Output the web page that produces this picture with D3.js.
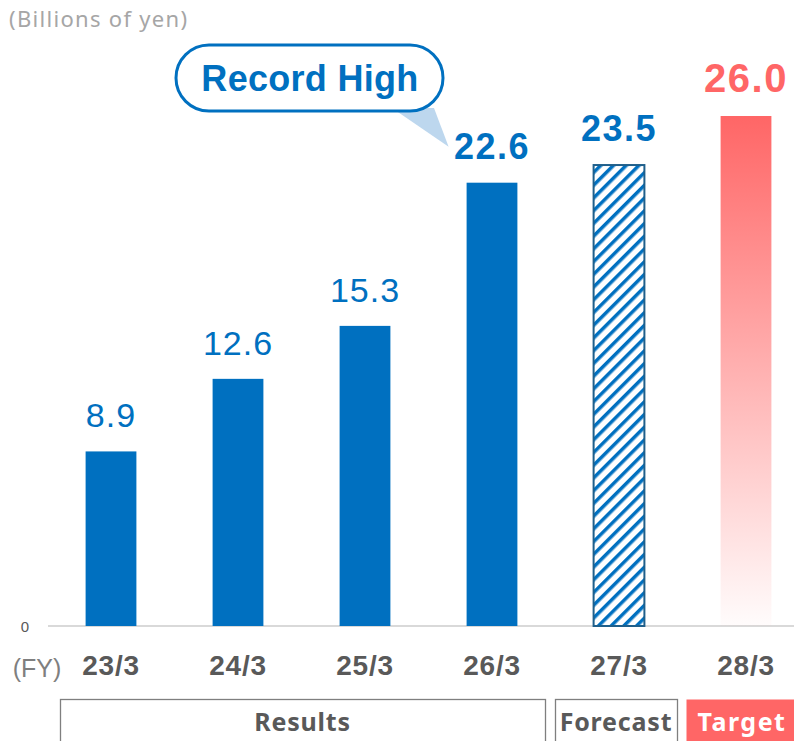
<!DOCTYPE html>
<html>
<head>
<meta charset="utf-8">
<script src="https://cdn.jsdelivr.net/npm/d3@7/dist/d3.min.js"></script>
<style>
  body { margin: 0; background: #fff; }
  svg { display: block; font-family: "Liberation Sans", Arial, sans-serif; }
</style>
</head>
<body>
<div id="chart"></div>
<script>
var years = ["23/3", "24/3", "25/3", "26/3", "27/3", "28/3"];
var values = [8.9, 12.6, 15.3, 22.6, 23.5, 26.0];
var kinds = ["result", "result", "result", "result", "forecast", "target"];
var groups = [
  { label: "Results", from: 0, to: 3 },
  { label: "Forecast", from: 4, to: 4 },
  { label: "Target", from: 5, to: 5 }
];

var width = 794, height = 741;
var blue = "#0070c0", red = "#ff6666", gray = "#595959";

var svg = d3.select("#chart").append("svg")
  .attr("width", width)
  .attr("height", height);

var defs = svg.append("defs");

var hatch = defs.append("pattern")
  .attr("id", "hatch")
  .attr("patternUnits", "userSpaceOnUse")
  .attr("width", 9)
  .attr("height", 9)
  .attr("patternTransform", "rotate(45)");
hatch.append("rect").attr("width", 9).attr("height", 9).attr("fill", "#fff");
hatch.append("rect").attr("width", 3.5).attr("height", 9).attr("fill", blue);

var grad = defs.append("linearGradient")
  .attr("id", "redfade")
  .attr("x1", 0).attr("y1", 0).attr("x2", 0).attr("y2", 1);
grad.append("stop").attr("offset", "0%").attr("stop-color", red).attr("stop-opacity", 1);
grad.append("stop").attr("offset", "100%").attr("stop-color", red).attr("stop-opacity", 0.02);

var x = d3.scaleBand()
  .domain(years)
  .range([47.5, 809.5])
  .paddingInner(0.6)
  .paddingOuter(0.3);

var y = d3.scaleLinear()
  .domain([0, 26])
  .range([626, 116]);

// unit label
svg.append("text")
  .attr("x", 9).attr("y", 27)
  .attr("fill", "#a6a6a6")
  .attr("font-family", "'Noto Sans', sans-serif")
  .attr("font-size", 22)
  .attr("letter-spacing", 1.3)
  .text("(Billions of yen)");

// baseline
svg.append("line")
  .attr("x1", 48).attr("x2", width)
  .attr("y1", y(0)).attr("y2", y(0))
  .attr("stroke", "#d9d9d9").attr("stroke-width", 2);

svg.append("text")
  .attr("x", 25).attr("y", y(0) + 6)
  .attr("text-anchor", "middle")
  .attr("fill", gray)
  .attr("font-size", 15)
  .text("0");

var data = years.map(function(d, i) {
  return { year: d, value: values[i], kind: kinds[i] };
});

// bars
svg.selectAll(".bar")
  .data(data)
  .enter().append("rect")
  .attr("class", "bar")
  .attr("x", function(d) { return x(d.year); })
  .attr("width", x.bandwidth())
  .attr("y", function(d) { return y(d.value); })
  .attr("height", function(d) { return y(0) - y(d.value); })
  .attr("fill", function(d) {
    if (d.kind == "forecast") return "url(#hatch)";
    if (d.kind == "target") return "url(#redfade)";
    return blue;
  })
  .attr("stroke", function(d) { return d.kind == "forecast" ? "#1f5f8b" : "none"; })
  .attr("stroke-width", 2);

// value labels
svg.selectAll(".val")
  .data(data)
  .enter().append("text")
  .attr("class", "val")
  .attr("x", function(d) { return x(d.year) + x.bandwidth() / 2; })
  .attr("y", function(d) { return y(d.value) - 24; })
  .attr("text-anchor", "middle")
  .attr("fill", function(d) { return d.kind == "target" ? red : blue; })
  .attr("font-weight", function(d, i) { return i >= 3 ? "bold" : "normal"; })
  .attr("font-size", function(d, i) { return d.kind == "target" ? 40 : (i >= 3 ? 36 : 34); })
  .attr("letter-spacing", function(d, i) { return i >= 3 ? 1.5 : 1; })
  .text(function(d) { return d3.format(".1f")(d.value); });

// category labels
svg.selectAll(".cat")
  .data(years)
  .enter().append("text")
  .attr("class", "cat")
  .attr("x", function(d) { return x(d) + x.bandwidth() / 2; })
  .attr("y", 675)
  .attr("text-anchor", "middle")
  .attr("fill", gray)
  .attr("font-weight", "bold")
  .attr("font-size", 28)
  .attr("letter-spacing", 0.8)
  .text(function(d) { return d; });

svg.append("text")
  .attr("x", 37).attr("y", 677)
  .attr("text-anchor", "middle")
  .attr("fill", "#7f7f7f")
  .attr("font-size", 25)
  .text("(FY)");

// group boxes
var boxEdges = [[60, 545], [555, 677], [686, 796]];
groups.forEach(function(g, i) {
  var x0 = boxEdges[i][0], x1 = boxEdges[i][1];
  var isTarget = g.label == "Target";
  svg.append("rect")
    .attr("x", x0 + 0.5).attr("y", 699.5)
    .attr("width", x1 - x0).attr("height", 50)
    .attr("fill", isTarget ? red : "#fff")
    .attr("stroke", isTarget ? "none" : "#7f7f7f")
    .attr("stroke-width", 1.3);
  svg.append("text")
    .attr("x", isTarget ? 742 : (x0 + x1) / 2).attr("y", 731)
    .attr("text-anchor", "middle")
    .attr("fill", isTarget ? "#fff" : gray)
    .attr("font-family", "'Noto Sans', sans-serif")
    .attr("font-weight", "bold")
    .attr("font-size", 25)
    .attr("letter-spacing", isTarget ? 1.5 : 0.8)
    .text(g.label);
});

// callout
var tipX = x("26/3") - 18, tipY = y(22.6) - 36;
svg.append("path")
  .attr("d", "M392,108 L434,108 L" + tipX + "," + tipY + " Z")
  .attr("fill", "#bdd7ee");
svg.append("rect")
  .attr("x", 176).attr("y", 45)
  .attr("width", 267).attr("height", 66)
  .attr("rx", 33).attr("ry", 33)
  .attr("fill", "#fff")
  .attr("stroke", blue)
  .attr("stroke-width", 3);
svg.append("text")
  .attr("x", 310).attr("y", 91)
  .attr("text-anchor", "middle")
  .attr("fill", blue)
  .attr("font-weight", "bold")
  .attr("font-size", 36)
  .attr("letter-spacing", 0.3)
  .text("Record High");
</script>
</body>
</html>
